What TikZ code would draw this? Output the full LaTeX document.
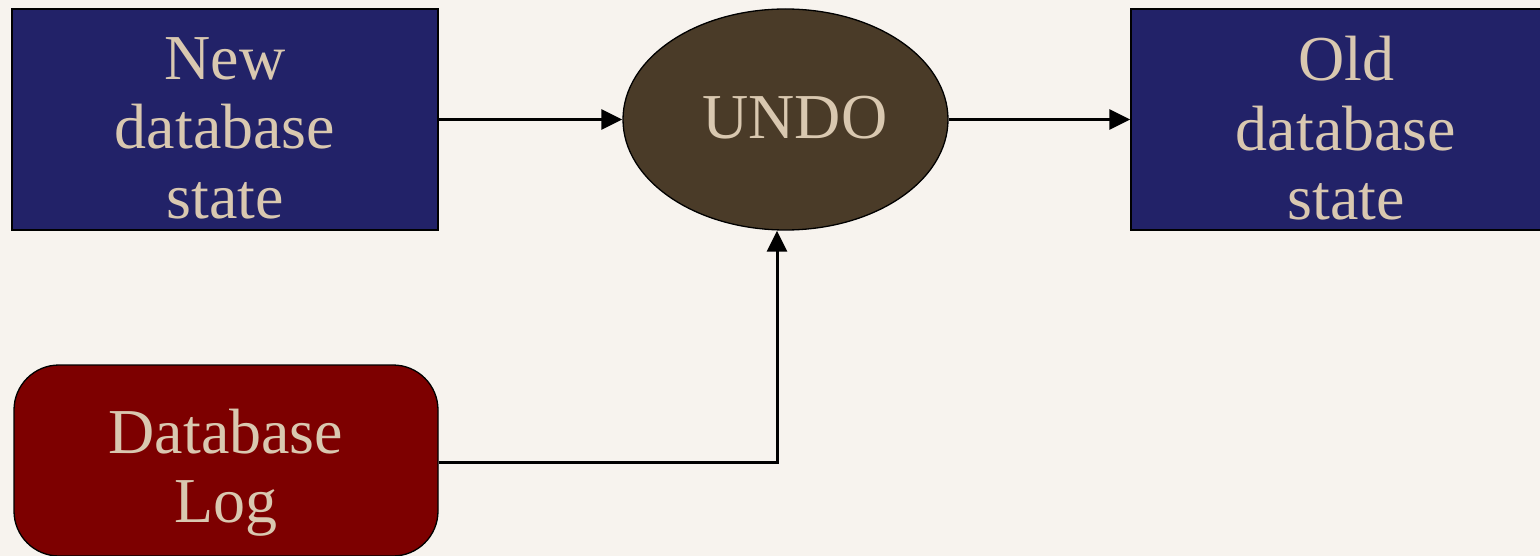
\documentclass[tikz,border=0pt]{standalone}
\usepackage{fontspec}
\setmainfont{Liberation Serif}
\usetikzlibrary{shapes.geometric,arrows.meta}
\definecolor{bgc}{HTML}{F7F3EE}
\definecolor{navy}{HTML}{222268}
\definecolor{brownc}{HTML}{4A3B28}
\definecolor{maroon}{HTML}{7D0000}
\definecolor{txt}{HTML}{D9C8B0}
\tikzset{
  statebox/.style={rectangle, draw=black, line width=1.3pt, fill=navy, minimum width=426pt, minimum height=221pt, inner sep=0pt},
  logbox/.style={rectangle, draw=black, line width=1.3pt, fill=maroon, rounded corners=45pt, minimum width=424pt, minimum height=191pt, inner sep=0pt},
  undoshape/.style={ellipse, draw=black, line width=1.3pt, fill=brownc, minimum width=325pt, minimum height=221pt, inner sep=0pt},
  lbl/.style={text=txt, align=center, inner sep=0pt, font=\fontsize{64}{69.5}\selectfont},
  arr/.style={line width=3pt, -{Triangle[length=21pt,width=20pt]}},
}
\begin{document}
\begin{tikzpicture}[x=1pt,y=-1pt]
\fill[bgc] (0,0) rectangle (1540,556);
\useasboundingbox (0,0) rectangle (1540,556);
\clip (0,0) rectangle (1540,556);
\node[statebox] (new) at (225,119.5) {};
\node[lbl] (newt) at (225,128.3) {New\\database\\state};
\node[undoshape] (undo) at (785.5,119.5) {};
\node[lbl] (undot) at (795,117.8) {UNDO};
\node[statebox] (old) at (1344,119.5) {};
\node[lbl] (oldt) at (1346,128.3) {Old\\database\\state};
\node[logbox] (log) at (226,460.5) {};
\node[lbl] (logt) at (226,472.8) {Database\\Log};
\coordinate (j) at (777,462);
\draw[arr] (new.east) -- (undo.west);
\draw[arr] (undo.east) -- (old.west);
\draw[arr] (log.east |- j) -- (j) -- (j |- undo.south);
\end{tikzpicture}
\end{document}
